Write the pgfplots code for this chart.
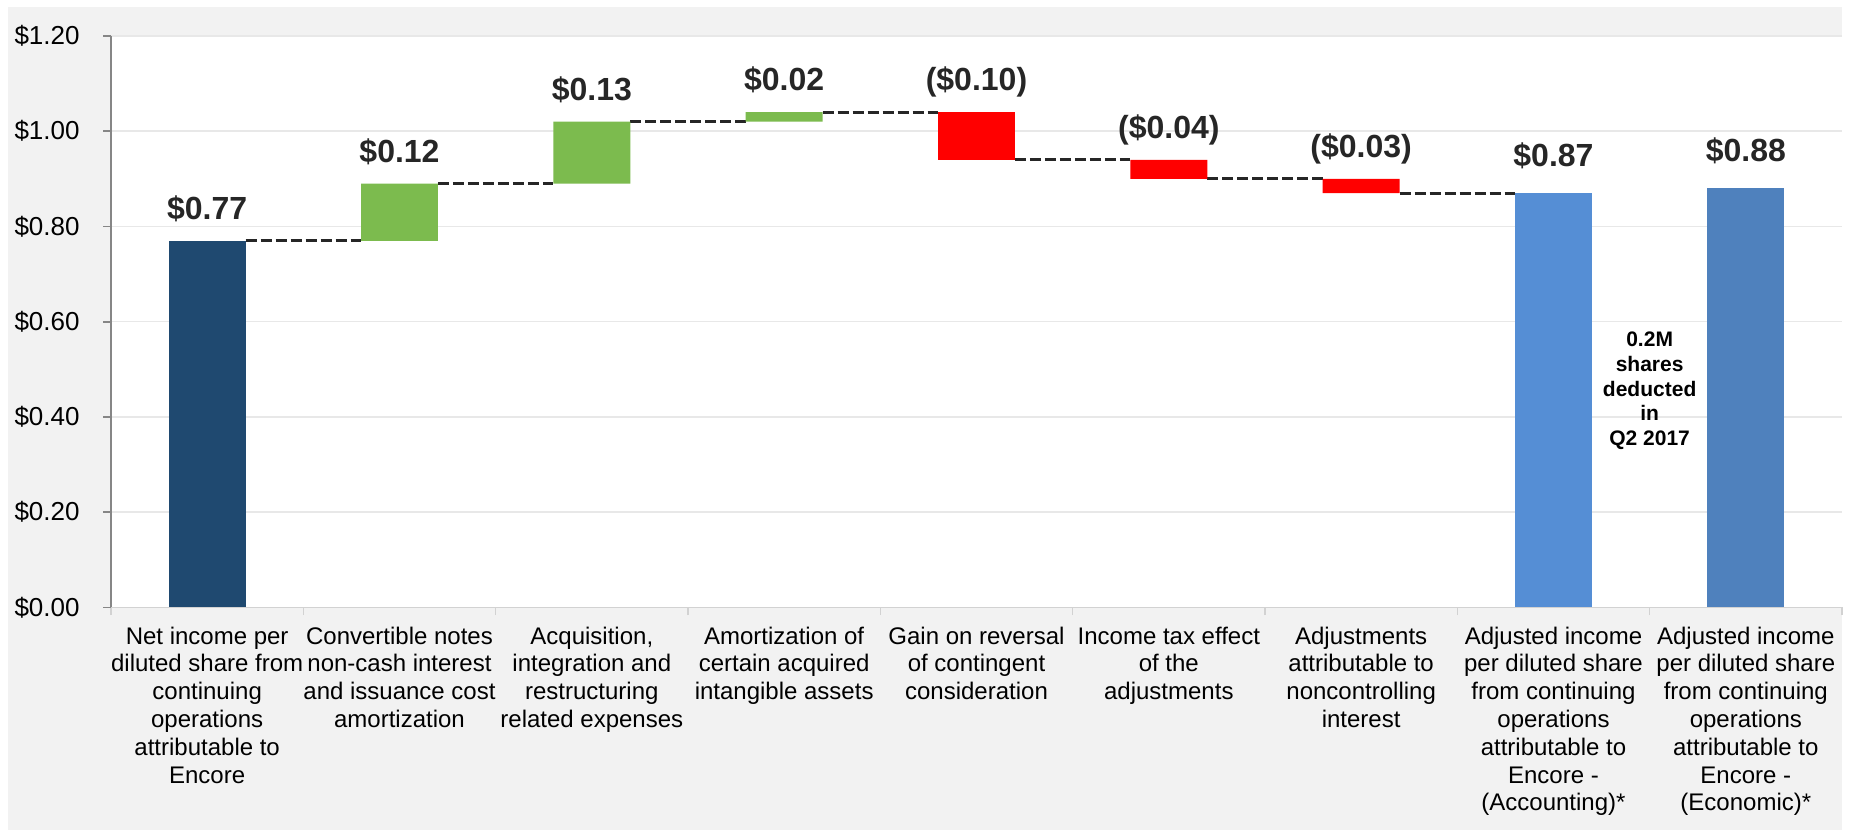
\documentclass[border=0pt]{standalone}
\usepackage{fontspec}
\setmainfont{Liberation Sans}
\usepackage{pgfplots}
\pgfplotsset{compat=1.18}

\definecolor{panel}{RGB}{242,242,242}
\definecolor{gridc}{RGB}{232,232,232}
\definecolor{yaxisc}{RGB}{134,134,134}
\definecolor{xaxisc}{RGB}{210,210,210}
\definecolor{navy}{RGB}{31,73,112}
\definecolor{gainc}{RGB}{124,187,78}
\definecolor{lossc}{RGB}{255,0,0}
\definecolor{adjacc}{RGB}{85,142,213}
\definecolor{adjeco}{RGB}{79,129,189}
\definecolor{dashc}{RGB}{38,38,38}
\definecolor{valc}{RGB}{38,38,38}

\tikzset{vlab/.style={anchor=base, yshift=10.8pt, inner sep=0pt, font=\bfseries\fontsize{16}{18}\selectfont, text=valc}}

\begin{document}
\begin{tikzpicture}
\useasboundingbox (-55.5pt,-112.75pt) rectangle (871pt,303.75pt);
\fill[panel] (-51.5pt,-111.5pt) rectangle (865.5pt,300.25pt);
\begin{axis}[
  at={(0pt,0pt)}, anchor=south west,
  scale only axis, width=865.5pt, height=285.75pt,
  xmin=-0.5, xmax=8.5, ymin=0, ymax=1.2,
  ybar stacked, bar width=0.4,
  axis background/.style={fill=white},
  axis x line*=bottom, axis y line*=left,
  x axis line style={draw=xaxisc, line width=0.8pt},
  y axis line style={draw=yaxisc, line width=0.8pt},
  tick align=outside, major tick length=3.8pt,
  xtick style={draw=xaxisc, line width=0.8pt},
  ytick style={draw=yaxisc, line width=0.8pt},
  ymajorgrids, major grid style={draw=gridc, line width=0.75pt},
  ytick={0,0.2,0.4,0.6,0.8,1.0,1.2},
  yticklabels={\$0.00,\$0.20,\$0.40,\$0.60,\$0.80,\$1.00,\$1.20},
  yticklabel style={font=\fontsize{13}{15}\selectfont, inner sep=0pt, anchor=east, xshift=-11.7pt},
  xtick={-0.5,0.5,1.5,2.5,3.5,4.5,5.5,6.5,7.5,8.5},
  x tick label as interval,
  xticklabels={
    {Net income per\\diluted share from\\continuing\\operations\\attributable to\\Encore},
    {Convertible notes\\non-cash interest\\and issuance cost\\amortization},
    {Acquisition,\\integration and\\restructuring\\related expenses},
    {Amortization of\\certain acquired\\intangible assets},
    {Gain on reversal\\of contingent\\consideration},
    {Income tax effect\\of the\\adjustments},
    {Adjustments\\attributable to\\noncontrolling\\interest},
    {Adjusted income\\per diluted share\\from continuing\\operations\\attributable to\\Encore -\\(Accounting)*},
    {Adjusted income\\per diluted share\\from continuing\\operations\\attributable to\\Encore -\\(Economic)*}},
  xticklabel style={font=\fontsize{12}{13.9}\selectfont, align=center, anchor=north, inner sep=0pt, yshift=-5.6pt},
  clip=false,
]
% invisible base of the floating bars
\addplot[fill=none, draw=none] coordinates {(0,0) (1,0.77) (2,0.89) (3,1.02) (4,0.94) (5,0.90) (6,0.87) (7,0) (8,0)};
\addplot[fill=navy, draw=none] coordinates {(0,0.77) (1,0) (2,0) (3,0) (4,0) (5,0) (6,0) (7,0) (8,0)};
\addplot[fill=gainc, draw=none] coordinates {(0,0) (1,0.12) (2,0.13) (3,0.02) (4,0) (5,0) (6,0) (7,0) (8,0)};
\addplot[fill=lossc, draw=none] coordinates {(0,0) (1,0) (2,0) (3,0) (4,0.10) (5,0.04) (6,0.03) (7,0) (8,0)};
\addplot[fill=adjacc, draw=none] coordinates {(0,0) (1,0) (2,0) (3,0) (4,0) (5,0) (6,0) (7,0.87) (8,0)};
\addplot[fill=adjeco, draw=none] coordinates {(0,0) (1,0) (2,0) (3,0) (4,0) (5,0) (6,0) (7,0) (8,0.88)};

% dashed connectors
\addplot[stack plots=false, sharp plot, draw=dashc, line width=1.6pt, dash pattern=on 5.5pt off 2pt, mark=none, unbounded coords=jump] coordinates {
  (0.2,0.77) (0.8,0.77) (1,nan)
  (1.2,0.89) (1.8,0.89) (2,nan)
  (2.2,1.02) (2.8,1.02) (3,nan)
  (3.2,1.04) (3.8,1.04) (4,nan)
  (4.2,0.94) (4.8,0.94) (5,nan)
  (5.2,0.90) (5.8,0.90) (6,nan)
  (6.2,0.87) (6.8,0.87)
};

% value labels, above the top of each bar
\node[vlab] at (axis cs:0,0.77) {\$0.77};
\node[vlab] at (axis cs:1,0.89) {\$0.12};
\node[vlab] at (axis cs:2,1.02) {\$0.13};
\node[vlab] at (axis cs:3,1.04) {\$0.02};
\node[vlab] at (axis cs:4,1.04) {(\$0.10)};
\node[vlab] at (axis cs:5,0.94) {(\$0.04)};
\node[vlab] at (axis cs:6,0.90) {(\$0.03)};
\node[vlab, yshift=2.7pt] at (axis cs:7,0.87) {\$0.87};
\node[vlab, yshift=2.7pt] at (axis cs:8,0.88) {\$0.88};

\node[font=\bfseries\fontsize{10.5}{12.4}\selectfont, align=center, inner sep=0pt] at (axis cs:7.5,0.455) {0.2M\\shares\\deducted\\in\\Q2 2017};
\end{axis}
\end{tikzpicture}
\end{document}
